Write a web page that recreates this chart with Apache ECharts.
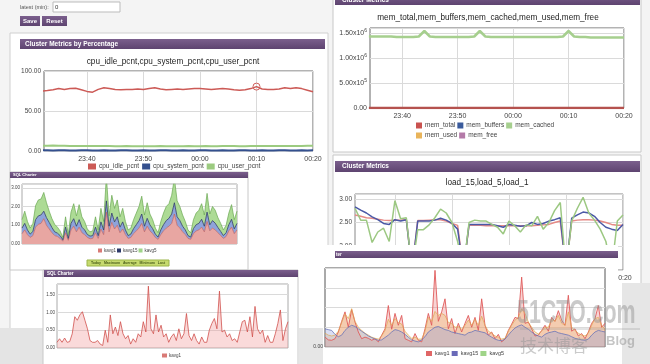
<!DOCTYPE html>
<html><head><meta charset="utf-8">
<script src="https://cdn.jsdelivr.net/npm/echarts@6/dist/echarts.min.js"></script>
<style>html,body{margin:0;padding:0;background:#f4f4f4}#c{width:650px;height:364px}</style>
</head><body><div id="c"></div>
<script>
// ---------- DATA ----------
const timeTickValues = [0, 10, 20, 30, 40];
const timeTickLabels = ['23:40', '23:50', '00:00', '00:10', '00:20'];

const cpuMinutes = [-8,-7,-6,-5,-4,-3,-2,-1,0,1,2,3,4,5,6,7,8,9,10,11,12,13,14,15,16,17,18,19,20,21,22,23,24,25,26,27,28,29,30,31,32,33,34,35,36,37,38,39,40];
const cpuIdle = [75,75.5,76.5,78,77,78,78.5,76.5,74.5,73.5,77,79,78,77,76.5,77,77,77.5,77,78,79,77.5,76.5,77,77.5,77,77.5,78,78,77.5,77,77.5,78,77.5,76.5,76,76.5,78,80.5,77.5,77,77,77.5,79,78,79,78,76,74];
const cpuSystem = [0.8,0.8,0.7,0.8,0.8,0.7,0.7,0.8,0.8,0.7,0.7,0.8,0.7,0.7,0.8,0.8,0.7,0.7,0.8,0.7,0.7,0.8,0.8,0.7,0.7,0.8,0.7,0.7,0.8,0.8,0.7,0.7,0.8,0.7,0.7,0.8,0.8,0.7,0.7,0.8,0.7,0.7,0.8,0.8,0.7,0.7,0.8,0.7,0.8];
const cpuUser = [6.5,6.6,6.8,6.6,6.5,6.4,6.3,6.3,6.2,6.2,6.1,6.1,6.2,6.0,6.0,6.1,6.0,5.9,5.9,6.0,6.0,6.1,6.0,5.9,6.0,6.0,6.1,6.0,6.0,6.1,6.0,6.0,6.1,6.2,6.1,6.0,6.0,6.1,6.2,6.1,6.2,6.3,6.3,6.3,6.4,6.3,6.4,6.5,6.5];
const cpuHighlight = [30, 80.5];

const memMinutes = [-6,-5,-4,-3,-2,-1,0,1,2,3,4,5,6,7,8,9,10,11,12,13,14,15,16,17,18,19,20,21,22,23,24,25,26,27,28,29,30,31,32,33,34,35,36,37,38,39,40];
const memCached = [1.43e6,1.43e6,1.43e6,1.43e6,1.43e6,1.42e6,1.42e6,1.42e6,1.42e6,1.43e6,
  1.54e6,1.43e6,1.42e6,1.42e6,1.42e6,1.42e6,1.42e6,1.42e6,1.42e6,1.43e6,
  1.54e6,1.43e6,1.42e6,1.42e6,1.42e6,1.42e6,1.42e6,1.42e6,1.42e6,1.42e6,
  1.42e6,1.42e6,1.42e6,1.42e6,1.42e6,1.43e6,1.54e6,1.43e6,1.42e6,1.42e6,
  1.41e6,1.41e6,1.41e6,1.41e6,1.41e6,1.41e6,1.41e6];
const memFlatMinutes = [-6, 40];
const memTotal = [0, 0];
const memBuffers = [0, 0];
const memUsed = [0, 0];
const memFree = [0, 0];

const loadMinutes = [-7,-6,-5,-4,-3,-2,-1,0,1,2,3,4,5,6,7,8,9,10,11,12,13,14,15,16,17,18,19,20,21,22,23,24,25,26,27,28,29,30,31,32,33,34,35,36,37,38,39,40];
const load15 = [2.66,2.63,2.6,2.59,2.57,2.55,2.54,2.55,2.55,2.56,1.5,2.54,2.54,2.55,2.56,2.56,2.53,2.48,2.44,1.5,2.44,2.44,2.44,2.43,2.43,2.43,2.43,2.43,2.43,2.43,2.43,2.43,2.44,2.45,2.46,2.5,2.53,1.5,2.53,2.55,2.56,2.56,2.55,2.53,2.5,2.46,2.44,2.44];
const load5 = [2.83,2.76,2.7,2.62,2.56,2.48,2.46,2.56,2.53,2.56,1.5,2.53,2.53,2.53,2.55,2.59,2.55,2.48,2.36,1.5,2.46,2.46,2.46,2.46,2.46,2.43,2.4,2.46,2.44,2.42,2.43,2.5,2.46,2.48,2.53,2.56,2.6,1.5,2.59,2.66,2.72,2.7,2.63,2.5,2.4,2.36,2.33,2.46];
const load1 = [2.8,2.55,2.55,2.08,2.3,2.38,2.1,2.96,2.58,2.6,1.5,2.35,2.35,2.45,2.6,2.78,2.7,2.5,2.1,1.5,2.5,2.55,2.53,2.53,2.46,2.4,2.26,2.53,2.43,2.3,2.45,2.43,2.63,2.36,2.5,2.75,2.92,1.5,2.53,2.8,3.03,2.7,2.55,2.36,2.1,1.5,2.53,2.66];

const sqlA_kavg1 = [0.55,0.75,0.5,0.35,0.45,0.9,1.05,1.1,1.35,1.0,0.8,0.6,0.45,0.4,0.3,0.15,0.6,0.2,0.75,0.95,0.65,0.9,0.6,0.5,0.35,0.28,0.3,0.6,0.3,0.8,0.5,1.7,0.65,1.15,0.8,1.0,0.6,0.8,0.5,0.3,0.35,0.55,0.7,0.85,1.1,0.65,0.95,0.7,0.55,0.35,0.25,0.5,0.7,0.85,0.95,1.1,1.6,1.0,0.85,0.65,0.5,0.3,0.25,0.55,0.7,0.75,0.9,0.65,1.2,0.7,0.85,0.75,0.6,0.45,0.3,0.4,0.7,0.9,0.55,0.75];
const sqlA_kavg15 = [0.3,0.35,0.25,0.18,0.22,0.4,0.45,0.45,0.4,0.4,0.35,0.28,0.2,0.18,0.15,0.08,0.3,0.1,0.35,0.4,0.3,0.4,0.3,0.25,0.16,0.14,0.15,0.3,0.15,0.38,0.25,0.6,0.3,0.5,0.38,0.45,0.3,0.38,0.25,0.15,0.18,0.27,0.33,0.4,0.5,0.3,0.42,0.32,0.27,0.18,0.12,0.25,0.33,0.4,0.42,0.5,0.6,0.45,0.4,0.3,0.25,0.15,0.12,0.27,0.33,0.35,0.42,0.3,0.5,0.32,0.4,0.36,0.28,0.22,0.15,0.2,0.33,0.42,0.26,0.35];
const sqlA_kavg5 = [0.45,0.65,0.45,0.32,0.43,0.75,0.85,0.85,1.0,0.8,0.6,0.47,0.4,0.32,0.25,0.12,0.55,0.2,0.6,0.8,0.55,0.8,0.55,0.45,0.29,0.23,0.25,0.55,0.3,0.72,0.45,1.3,0.55,0.95,0.72,0.9,0.55,0.72,0.45,0.3,0.32,0.48,0.62,0.75,0.95,0.6,0.83,0.58,0.48,0.32,0.23,0.45,0.62,0.75,0.78,1.0,1.3,0.85,0.75,0.6,0.45,0.3,0.23,0.48,0.62,0.7,0.83,0.6,1.0,0.58,0.75,0.69,0.52,0.43,0.3,0.4,0.62,0.78,0.49,0.65];

const sqlB_kavg1 = [0.16,0.26,0.16,0.28,0.16,0.18,0.4,0.88,0.78,0.93,
  1.02,0.78,0.54,0.21,0.16,0.16,0.21,0.11,0.07,0.5,
  0.16,0.93,0.4,0.59,0.35,0.74,0.4,0.26,0.35,0.11,
  0.26,0.16,0.4,0.31,0.74,0.45,1.74,0.54,0.4,0.93,
  0.45,0.64,0.31,0.4,0.16,0.31,0.4,0.21,0.54,0.26,
  0.4,0.97,0.35,0.21,0.4,0.21,0.11,0.31,0.16,0.16,
  0.5,0.69,0.83,0.54,1.6,0.45,0.5,0.31,0.4,0.21,
  0.26,0.16,0.45,0.74,0.78,0.45,0.88,0.31,1.17,0.54,
  0.4,0.5,0.16,0.35,0.16,0.16,0.4,0.69,1.07,0.21,
  0.54,0.74];

const sqlC_kavg1 = [0.25,0.18,0.17,0.21,0.38,0.65,0.89,0.5,0.95,0.63,0.38,0.21,0.25,0.22,0.17,0.21,0.13,0.3,0.46,1.05,0.45,0.85,0.55,0.8,0.21,0.17,0.13,0.34,0.17,0.13,0.46,0.85,0.55,1.94,0.65,0.89,1.22,0.46,0.72,0.34,0.6,0.38,0.6,0.8,0.5,0.75,0.42,1.22,0.55,0.3,0.38,0.21,0.32,0.13,0.2,0.42,0.58,0.75,0.72,1.77,0.6,0.63,0.46,0.28,0.3,0.42,0.55,0.4,0.75,0.65,0.92,0.68,0.55,1.31,0.4,0.46,0.28,0.34,0.21,0.38,0.6,0.72,1.05,0.5,0.6];
const sqlC_kavg15 = [0.46,0.44,0.42,0.32,0.26,0.3,0.42,0.5,0.55,0.52,0.46,0.4,0.34,0.28,0.24,0.2,0.17,0.18,0.24,0.3,0.38,0.44,0.42,0.38,0.32,0.25,0.18,0.15,0.13,0.18,0.26,0.38,0.44,0.5,0.52,0.48,0.44,0.42,0.38,0.36,0.34,0.32,0.3,0.36,0.38,0.42,0.4,0.38,0.36,0.3,0.25,0.2,0.17,0.16,0.2,0.3,0.4,0.48,0.53,0.56,0.5,0.45,0.38,0.32,0.28,0.25,0.32,0.36,0.38,0.4,0.36,0.34,0.32,0.3,0.26,0.22,0.2,0.18,0.17,0.2,0.3,0.38,0.42,0.4,0.38];
const sqlC_kavg5 = [0.35,0.3,0.28,0.3,0.4,0.62,0.84,0.72,0.97,0.65,0.5,0.42,0.35,0.3,0.25,0.22,0.2,0.28,0.42,0.7,0.55,0.72,0.62,0.58,0.4,0.3,0.22,0.25,0.2,0.2,0.4,0.75,0.65,0.9,0.8,0.85,0.8,0.62,0.6,0.5,0.52,0.45,0.55,0.68,0.55,0.7,0.55,0.78,0.55,0.4,0.35,0.28,0.25,0.2,0.22,0.4,0.55,0.68,0.75,0.97,0.85,0.63,0.5,0.38,0.33,0.4,0.5,0.5,0.7,0.65,0.8,0.6,0.55,0.89,0.5,0.42,0.35,0.3,0.28,0.35,0.55,0.72,0.75,0.55,0.45];

// ---------- HELPERS ----------
const FONT = '"Liberation Sans", Arial, sans-serif';
const pairs = (xs, ys) => ys.map((y, i) => [xs[i], y]);
const sampleIndex = ys => ys.map((y, i) => String(i));
const fmtTime = v => { const i = timeTickValues.indexOf(v); return i >= 0 ? timeTickLabels[i] : ''; };
const fix2 = v => v.toFixed(2);
function sci(v) {
  if (v === 0) return '{m|0.00}';
  const e = Math.floor(Math.log10(v) + 1e-9);
  const m = (v / Math.pow(10, e)).toFixed(2);
  return '{m|' + m + 'x10}{e|' + e + '}';
}
const PURPLE = new echarts.graphic.LinearGradient(0, 0, 0, 1, [{offset: 0, color: '#7b5f8d'}, {offset: 1, color: '#5e4470'}]);

function timeX(gi, min, max, z) {
  return {type: 'value', gridIndex: gi, min, max, z,
    axisLine: {show: false}, axisTick: {show: false, customValues: timeTickValues},
    axisLabel: {customValues: timeTickValues, formatter: fmtTime, fontSize: 7, color: '#444', margin: 5},
    splitLine: {show: true, lineStyle: {color: '#dadada'}}};
}
function catX(gi, values, z) {
  return {type: 'category', gridIndex: gi, data: sampleIndex(values), boundaryGap: false, z,
    axisLine: {show: false}, axisTick: {show: false}, axisLabel: {show: false}, splitLine: {show: false}};
}
function valY(gi, min, max, interval, z, fs, fmt, margin, rich, showMax) {
  const lab = {fontSize: fs, color: '#444', margin, formatter: fmt, showMaxLabel: !!showMax};
  if (rich) lab.rich = rich;
  return {type: 'value', gridIndex: gi, min, max, interval, z,
    axisLine: {show: false}, axisTick: {show: false}, axisLabel: lab,
    splitLine: {lineStyle: {color: '#dadada'}}};
}
function line(name, xi, data, color, width, z, extra) {
  return Object.assign({type: 'line', name, xAxisIndex: xi, yAxisIndex: xi, data,
    symbol: 'none', showSymbol: false, z, silent: true, emphasis: {disabled: true},
    lineStyle: {color, width}, itemStyle: {color}}, extra || {});
}
function rect(x, y, w, h, fill, z, stroke) {
  return {type: 'rect', shape: {x, y, width: w, height: h}, style: {fill, stroke: stroke || null, lineWidth: 1}, z, silent: true};
}
function txt(x, y, text, size, fill, z, opts) {
  const o = opts || {};
  return {type: 'text', x, y, z, silent: true, scaleX: o.scaleX || 1,
    style: {text, fontSize: size, fontWeight: o.bold ? 'bold' : 'normal', fontFamily: o.font || FONT, fill,
      align: o.align || 'left', verticalAlign: 'middle', textAlign: o.align || 'left', textVerticalAlign: 'middle'}};
}
function legendItems(names, colors) { return names.map((n, i) => ({name: n, itemStyle: {color: colors[i]}})); }
function legend(left, top, names, colors, iw, ih, gap, fs, z, textPad) {
  return {left, top, padding: 0, icon: 'rect', itemWidth: iw, itemHeight: ih, itemGap: gap, z, selectedMode: false,
    textStyle: {fontSize: fs, color: '#444', padding: [0, 0, 0, textPad]}, data: legendItems(names, colors)};
}

const supRich = {m: {fontSize: 7, color: '#444', lineHeight: 10}, e: {fontSize: 5, color: '#444', verticalAlign: 'top', lineHeight: 7}};

const option = {
  animation: false,
  backgroundColor: '#f4f4f4',
  textStyle: {fontFamily: FONT},
  grid: [
    {left: 44, top: 71, width: 269, height: 80, show: true, backgroundColor: '#fff', borderColor: '#666', borderWidth: 1, z: 1},
    {left: 370, top: 28, width: 254, height: 80, show: true, backgroundColor: '#fff', borderColor: '#666', borderWidth: 1, z: 1},
    {left: 355, top: 194, width: 268, height: 76, show: true, backgroundColor: '#fff', borderColor: '#888', borderWidth: 1, z: 1},
    {left: 22, top: 184, width: 215, height: 60, show: true, backgroundColor: '#fff', borderColor: '#aaa', borderWidth: 1, z: 10.5},
    {left: 57, top: 284, width: 231, height: 64, show: true, backgroundColor: '#fff', borderColor: '#aaa', borderWidth: 1, z: 20.5},
    {left: 325, top: 268, width: 280, height: 79, show: true, backgroundColor: 'rgba(255,255,255,0)', borderColor: '#555', borderWidth: 1, z: 20.5}
  ],
  xAxis: [
    timeX(0, -7.6, 40, 2),
    timeX(1, -5.8, 40, 2),
    timeX(2, -7, 40, 2),
    catX(3, sqlA_kavg1, 11),
    catX(4, sqlB_kavg1, 21),
    catX(5, sqlC_kavg1, 21)
  ],
  yAxis: [
    valY(0, 0, 100, 50, 2, 6.5, fix2, 3, null, true),
    valY(1, 0, 1.6e6, 5e5, 2, 7, sci, 3, supRich),
    valY(2, 1.5, 3.1, 0.5, 2, 6.5, fix2, 3),
    valY(3, 0, 3.2, 1, 11, 4.5, fix2, 2),
    valY(4, 0, 1.8, 0.5, 21, 4.5, fix2, 2),
    valY(5, 0, 2, 0.5, 21, 5, v => (v === 0 ? '0.00' : ''), 2)
  ],
  legend: [
    legend(88, 163, ['cpu_idle_pcnt', 'cpu_system_pcnt', 'cpu_user_pcnt'], ['#cc5a56', '#34508e', '#9ccb80'], 8, 6, 3, 6.5, 3, -2),
    legend(416, 122, ['mem_total', 'mem_buffers', 'mem_cached'], ['#c9524f', '#3a5b9c', '#a6cf8e'], 6, 6, 2, 6.5, 3, -2),
    legend(416, 132, ['mem_used', 'mem_free'], ['#e9b45a', '#b47aa8'], 6, 6, 2, 6.5, 3, -2),
    legend(98, 248, ['kavg1', 'kavg15', 'kavg5'], ['#d97a76', '#2d3a6a', '#9fd488'], 4, 4, 1, 4.5, 12, -3),
    legend(162, 353, ['kavg1'], ['#d97a76'], 5, 4, 2, 4.5, 22, -3),
    legend(426, 350.5, ['kavg1', 'kavg15', 'kavg5'], ['#e06666', '#6a6ab8', '#9fd488'], 6, 5, 2, 5.5, 22, -2)
  ],
  series: [
    // panel 1
    line('cpu_user_pcnt', 0, pairs(cpuMinutes, cpuUser), '#9ccb80', 2, 3),
    line('cpu_system_pcnt', 0, pairs(cpuMinutes, cpuSystem), '#34508e', 2, 3),
    line('cpu_idle_pcnt', 0, pairs(cpuMinutes, cpuIdle), '#cc5a56', 1.5, 3, {
      markPoint: {symbol: 'circle', symbolSize: 7, silent: true, label: {show: false},
        itemStyle: {color: 'rgba(255,255,255,0)', borderColor: '#d0605c', borderWidth: 1},
        data: [{coord: cpuHighlight}]}}),
    // panel 2
    line('mem_free', 1, pairs(memFlatMinutes, memFree), '#b47aa8', 2, 3),
    line('mem_used', 1, pairs(memFlatMinutes, memUsed), '#e9b45a', 2, 3),
    line('mem_buffers', 1, pairs(memFlatMinutes, memBuffers), '#3a5b9c', 2, 3),
    line('mem_cached', 1, pairs(memMinutes, memCached), '#a6cf8e', 2.5, 3),
    line('mem_total', 1, pairs(memFlatMinutes, memTotal), '#b5524e', 2.5, 3),
    // panel 3
    line('load_15', 2, pairs(loadMinutes, load15), '#e68a86', 1.5, 3),
    line('load_5', 2, pairs(loadMinutes, load5), '#4a58a6', 1.5, 3),
    line('load_1', 2, pairs(loadMinutes, load1), '#9cc882', 1.5, 3),
    // panel 4 (stacked)
    line('kavg1', 3, sqlA_kavg1, '#c4605c', 0.7, 12, {stack: 'a', areaStyle: {color: '#e8a6a2', opacity: 1}}),
    line('kavg15', 3, sqlA_kavg15, '#2d3a6a', 0.8, 12, {stack: 'a', areaStyle: {color: '#8ea3da', opacity: 1}}),
    line('kavg5', 3, sqlA_kavg5, '#6aa852', 0.7, 12, {stack: 'a', areaStyle: {color: '#addb95', opacity: 1}}),
    // panel 5
    line('kavg1', 4, sqlB_kavg1, '#d0504d', 0.8, 22, {areaStyle: {color: 'rgba(240,150,150,0.5)'}}),
    // panel 6
    line('kavg1', 5, sqlC_kavg1, '#e05a5a', 0.9, 22, {areaStyle: {color: 'rgba(232,120,120,0.45)'}}),
    line('kavg5', 5, sqlC_kavg5, '#e0a850', 0.7, 22, {areaStyle: {color: 'rgba(236,190,100,0.45)'}}),
    line('kavg15', 5, sqlC_kavg15, '#6a74b8', 0.8, 22, {areaStyle: {color: 'rgba(140,150,215,0.45)'}})
  ],
  graphic: {elements: [
    // top controls
    txt(20, 7, 'latest (min):', 5.5, '#555', 0),
    rect(53, 2, 67, 10, '#fff', 0, '#bbb'),
    txt(55, 7, '0', 6, '#333', 0),
    rect(20, 16, 20, 10, PURPLE, 0),
    txt(30, 21, 'Save', 6, '#fff', 0, {bold: true, align: 'center'}),
    rect(42, 16, 25, 10, PURPLE, 0),
    txt(54.5, 21, 'Reset', 6, '#fff', 0, {bold: true, align: 'center'}),
    // panel 1
    rect(10, 33, 318, 340, '#fff', 0, '#d0d0d0'),
    rect(20, 39, 305, 10, PURPLE, 0),
    txt(25, 44, 'Cluster Metrics by Percentage', 6.5, '#fff', 0, {bold: true}),
    txt(173, 62, 'cpu_idle_pcnt,cpu_system_pcnt,cpu_user_pcnt', 8.2, '#222', 0, {align: 'center'}),
    // panel 2
    rect(333, -1, 308, 153, '#fff', 0, '#c8c8c8'),
    rect(335, -6, 305, 11, PURPLE, 0),
    txt(342, 0, 'Cluster Metrics', 6.5, '#fff', 0, {bold: true}),
    txt(488, 18, 'mem_total,mem_buffers,mem_cached,mem_used,mem_free', 8.2, '#222', 0, {align: 'center'}),
    // panel 3
    rect(333, 155, 308, 215, '#fff', 0, '#c8c8c8'),
    rect(335, 161, 305, 11, PURPLE, 0),
    txt(342, 166.5, 'Cluster Metrics', 6.5, '#fff', 0, {bold: true}),
    txt(487, 183, 'load_15,load_5,load_1', 8.2, '#222', 0, {align: 'center'}),
    // panel 4
    rect(10, 172, 238, 98, '#fff', 10, '#c8c8c8'),
    rect(10, 172, 238, 6, PURPLE, 10),
    txt(13, 175, 'SQL Charter', 4, '#fff', 10, {bold: true}),
    rect(87, 260, 82, 6, '#c6da6e', 10, '#9bb548'),
    txt(128, 263, 'Today   Maximum   Average   Minimum   Last', 3.5, '#4a5e1a', 10, {bold: true, align: 'center'}),
    // bottom left gray + panel 5
    rect(0, 328, 43, 40, '#e4e4e4', 19),
    rect(43, 270, 255, 100, '#fff', 20, '#c8c8c8'),
    rect(44, 270, 254, 7, PURPLE, 20),
    txt(47, 273.5, 'SQL Charter', 4.5, '#fff', 20, {bold: true}),
    // panel 6
    rect(299, 245, 319, 125, '#fff', 20),
    rect(299, 328, 24, 40, '#e6e6e6', 20),
    rect(335, 251, 283, 7, PURPLE, 20),
    txt(336, 254.5, 'ter', 4.5, '#fff', 20, {bold: true}),
    rect(622, 283, 30, 85, '#e6e6e6', 20),
    // watermark
    txt(517, 314, '51CTO.com', 34, 'rgba(150,150,150,0.5)', 30, {bold: true, scaleX: 0.63}),
    {type: 'line', shape: {x1: 520, y1: 329, x2: 640, y2: 329}, style: {stroke: 'rgba(150,150,150,0.5)', lineWidth: 1}, z: 30, silent: true},
    txt(520, 346, '技术博客', 17, 'rgba(150,150,150,0.5)', 30, {font: '"Noto Sans CJK SC", sans-serif'}),
    txt(606, 341, 'Blog', 13, 'rgba(150,150,150,0.55)', 30, {bold: true})
  ]}
};

const chart = echarts.init(document.getElementById('c'), null, {renderer: 'canvas', width: 650, height: 364});
chart.setOption(option);
</script>
</body></html>
